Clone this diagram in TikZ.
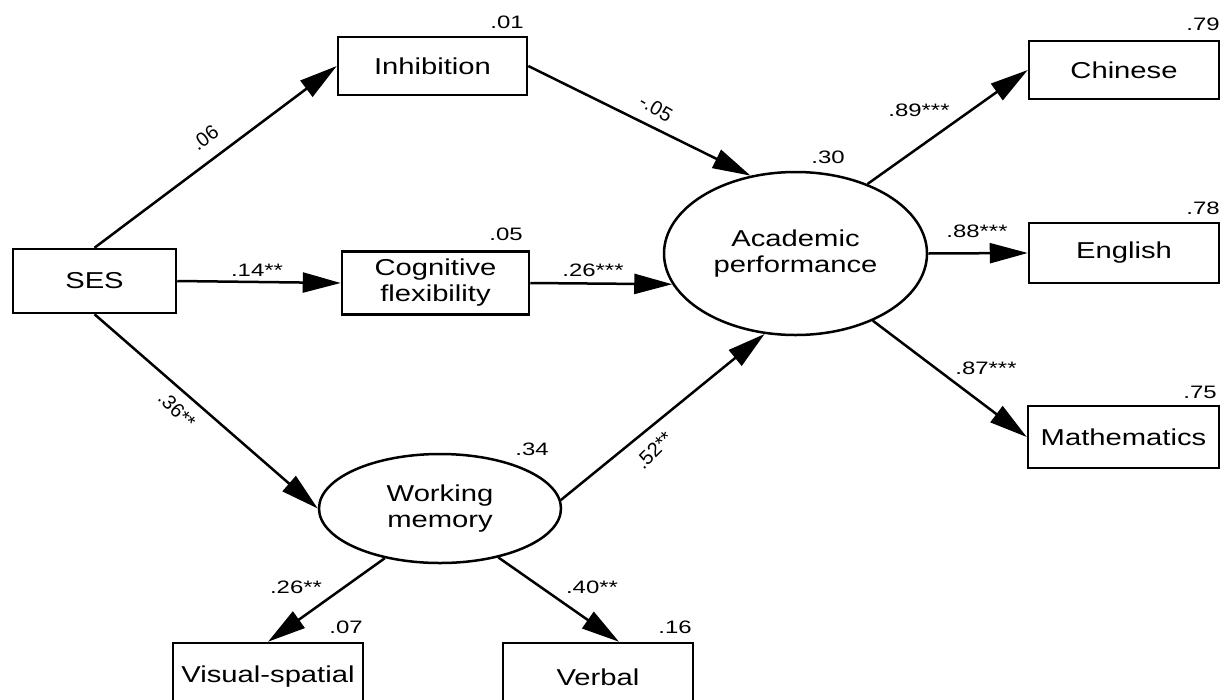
\documentclass[tikz,border=0pt]{standalone}
\usepackage{graphicx}
\usepackage{fontspec}
\setmainfont{Liberation Sans}
\usetikzlibrary{arrows.meta,shapes.geometric,calc}
\newcommand{\stx}[1]{\scalebox{1.27}[1]{#1}}
\newcommand{\sty}[1]{\scalebox{1.33}[1]{#1}}
\begin{document}
\begin{tikzpicture}[x=1pt,y=-1pt,
  obs/.style={draw, rectangle, line width=2.5pt, inner sep=0pt, align=center,
              font=\fontsize{23}{26}\selectfont},
  lat/.style={draw, ellipse, line width=2.5pt, inner sep=0pt, align=center,
              font=\fontsize{23}{26}\selectfont},
  num/.style={inner sep=0pt, font=\fontsize{18}{20}\selectfont},
  rnum/.style={inner sep=0pt, font=\fontsize{20}{22}\selectfont},
  arr/.style={line width=2.5pt, -{Triangle[length=38pt,width=20pt]}}]
\useasboundingbox (0,0) rectangle (1225,699);
\clip (0,0) rectangle (1225,699);
\fill[white] (0,0) rectangle (1225,699);

% observed and latent variables
\node[obs, minimum width=163pt, minimum height=64pt] (SES) at (94.5,281) {\stx{SES}};
\node[obs, minimum width=189pt, minimum height=58pt] (Inh) at (432.5,66) {\stx{Inhibition}};
\node[obs, minimum width=187pt, minimum height=63pt] (CF) at (435.5,283) {\stx{Cognitive}\\\stx{flexibility}};
\node[lat, minimum width=263pt, minimum height=163pt] (AP) at (795.5,253.5) {\stx{Academic}\\\stx{performance}};
\node[lat, minimum width=242pt, minimum height=109pt] (WM) at (440,508.5) {\stx{Working}\\\stx{memory}};
\node[obs, minimum width=190pt, minimum height=58pt] (Chi) at (1124,70) {\stx{Chinese}};
\node[obs, minimum width=190pt, minimum height=60pt] (Eng) at (1124,253) {\stx{English}};
\node[obs, minimum width=191pt, minimum height=62pt] (Mat) at (1123.5,437) {\stx{Mathematics}};
\node[obs, minimum width=190pt, minimum height=68pt] (Vis) at (268,677) {\stx{Visual-spatial}};
\node[obs, minimum width=190pt, minimum height=68pt] (Ver) at (598,677) {\stx{Verbal}};

% explained variances
\node[num] (vInh) at (507,22) {\sty{.01}};
\node[num] (vCF) at (506,234) {\sty{.05}};
\node[num] (vAP) at (828,157) {\sty{.30}};
\node[num] (vChi) at (1203,24) {\sty{.79}};
\node[num] (vEng) at (1203,208) {\sty{.78}};
\node[num] (vMat) at (1200,392) {\sty{.75}};
\node[num] (vWM) at (532,449) {\sty{.34}};
\node[num] (vVis) at (346,627) {\sty{.07}};
\node[num] (vVer) at (675,627) {\sty{.16}};

% paths
\draw[arr] (SES.north) -- (Inh.west);
\draw[arr] (SES.east) -- (CF.west);
\draw[arr] (SES.south) -- (WM.west);
\draw[arr] (Inh.east) -- (AP.120);
\draw[arr] (CF.east) -- (AP.194);
\draw[arr] (WM.4) -- (AP.249);
\draw[arr] (AP.44) -- (Chi.west);
\draw[arr] (AP.east) -- (Eng.west);
\draw[arr] (AP.319) -- (Mat.west);
\draw[arr] (WM.222) -- (Vis.north);
\draw[arr] (WM.320) -- ([xshift=21pt]Ver.north);

% path coefficients
\node[rnum, rotate=37] (c1) at (205,138) {.06};
\node[num] (c2) at (257,270) {\sty{.14**}};
\node[num] (c3) at (593,270) {\sty{.26***}};
\node[rnum, rotate=-30] (c4) at (656,108) {-.05};
\node[num] (c5) at (919,110) {\sty{.89***}};
\node[num] (c6) at (977,231) {\sty{.88***}};
\node[num] (c7) at (986,368) {\sty{.87***}};
\node[rnum, rotate=-45] (c8) at (177,410) {.36**};
\node[rnum, rotate=45] (c9) at (654,450) {.52**};
\node[num] (c10) at (296,587) {\sty{.26**}};
\node[num] (c11) at (592,587) {\sty{.40**}};
\end{tikzpicture}
\end{document}
